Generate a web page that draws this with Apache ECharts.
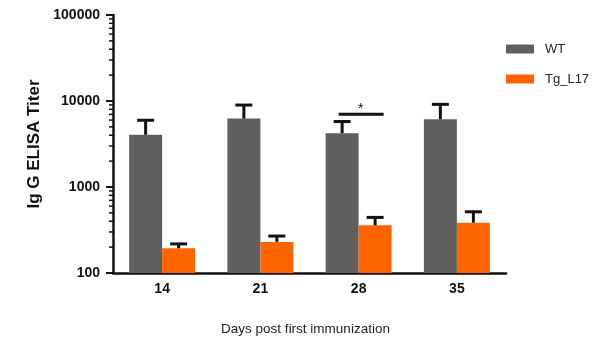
<!DOCTYPE html>
<html>
<head>
<meta charset="utf-8">
<script src="https://cdn.jsdelivr.net/npm/echarts@6/dist/echarts.min.js"></script>
<style>html,body{margin:0;padding:0;background:#fff;}#c{width:592px;height:341px;}</style>
</head>
<body>
<div id="c"></div>
<script>
var categories = ['14', '21', '28', '35'];
var wtMean = [4050, 6250, 4230, 6130];
var wtSem = [1920, 2720, 1540, 3010];
var tgMean = [194, 230, 358, 384];
var tgSem = [24, 39, 85, 131];
var yTickValues = [100, 1000, 10000, 100000];
var minorTickValues = [200, 300, 400, 500, 600, 700, 800, 900,
  2000, 3000, 4000, 5000, 6000, 7000, 8000, 9000,
  20000, 30000, 40000, 50000, 60000, 70000, 80000, 90000];
var sigMarks = [{ category: 2, value: 7000, label: '*' }];

var FONT = "'Liberation Sans', Arial, Helvetica, sans-serif";
var BAR_W = 33;
var GRAY = '#5f5f5f';
var ORANGE = '#ff6400';

function errData(means, sems) {
  return means.map(function (m, i) { return [i, m, m + sems[i]]; });
}

function errRender(offset) {
  return function (params, api) {
    var c = api.coord([api.value(0), api.value(1)]);
    var t = api.coord([api.value(0), api.value(2)]);
    var x = c[0] + offset;
    return {
      type: 'group',
      children: [
        { type: 'line', shape: { x1: x, y1: c[1], x2: x, y2: t[1] }, style: { stroke: '#111', lineWidth: 3 } },
        { type: 'line', shape: { x1: x - 8.5, y1: t[1], x2: x + 8.5, y2: t[1] }, style: { stroke: '#111', lineWidth: 3 } }
      ]
    };
  };
}

var chart = echarts.init(document.getElementById('c'));
chart.setOption({
  animation: false,
  backgroundColor: '#fff',
  textStyle: { fontFamily: FONT },
  grid: { left: 113, right: 86, top: 15, bottom: 66 },
  legend: {
    orient: 'vertical',
    left: 501,
    top: 37,
    itemWidth: 28,
    itemHeight: 9,
    itemGap: 16,
    icon: 'rect',
    data: ['WT', 'Tg_L17'],
    textStyle: { fontFamily: FONT, fontSize: 13, color: '#222', lineHeight: 14, padding: [0, 0, 0, 6] }
  },
  xAxis: {
    type: 'category',
    data: categories,
    name: 'Days post first immunization',
    nameLocation: 'middle',
    nameGap: 49,
    nameTextStyle: { fontFamily: FONT, fontSize: 13.5, color: '#222', padding: [0, 8, 0, 0] },
    axisLine: { lineStyle: { color: '#111', width: 2.5 } },
    axisTick: { alignWithLabel: true, length: 6, lineStyle: { color: '#111', width: 2 } },
    axisLabel: { margin: 9, fontFamily: FONT, fontSize: 14, fontWeight: 'bold', color: '#111' }
  },
  yAxis: {
    type: 'log',
    logBase: 10,
    min: 100,
    max: 100000,
    name: 'Ig G ELISA Titer',
    nameLocation: 'middle',
    nameGap: 64,
    nameTextStyle: { fontFamily: FONT, fontSize: 17, fontWeight: 'bold', color: '#111' },
    axisLine: { show: true, lineStyle: { color: '#111', width: 2.5 } },
    axisTick: { show: true, length: 7, lineStyle: { color: '#111', width: 2 } },
    axisLabel: {
      margin: 13, fontFamily: FONT, fontSize: 14, fontWeight: 'bold', color: '#111',
      formatter: function (v) { return yTickValues.indexOf(Math.round(v)) >= 0 ? String(Math.round(v)) : ''; }
    },
    splitLine: { show: false }
  },
  series: [
    { name: 'WT', type: 'bar', data: wtMean, barWidth: BAR_W, barGap: '0%', itemStyle: { color: GRAY } },
    { name: 'Tg_L17', type: 'bar', data: tgMean, barWidth: BAR_W, barGap: '0%', itemStyle: { color: ORANGE } },
    { type: 'custom', name: 'wtErr', data: errData(wtMean, wtSem), renderItem: errRender(-BAR_W / 2), z: 5, silent: true },
    { type: 'custom', name: 'tgErr', data: errData(tgMean, tgSem), renderItem: errRender(BAR_W / 2), z: 5, silent: true },
    {
      type: 'custom', name: 'minorTicks', z: 5, silent: true,
      data: minorTickValues.map(function (v) { return [0, v]; }),
      renderItem: function (params, api) {
        var y = api.coord([0, api.value(1)])[1];
        var x = params.coordSys.x;
        return { type: 'line', shape: { x1: x - 4, y1: y, x2: x, y2: y }, style: { stroke: '#111', lineWidth: 1.5 } };
      }
    },
    {
      type: 'custom', name: 'sig', z: 6, silent: true,
      data: sigMarks.map(function (s) { return [s.category, s.value]; }),
      renderItem: function (params, api) {
        var p = api.coord([api.value(0), api.value(1)]);
        return {
          type: 'group',
          children: [
            { type: 'line', shape: { x1: p[0] - 20, y1: p[1], x2: p[0] + 25, y2: p[1] }, style: { stroke: '#111', lineWidth: 3 } },
            { type: 'text', style: { x: p[0] + 2, y: p[1] + 2, text: sigMarks[params.dataIndex].label, fontFamily: FONT, fontSize: 14, fill: '#111', align: 'center', verticalAlign: 'bottom' } }
          ]
        };
      }
    }
  ]
});
</script>
</body>
</html>
